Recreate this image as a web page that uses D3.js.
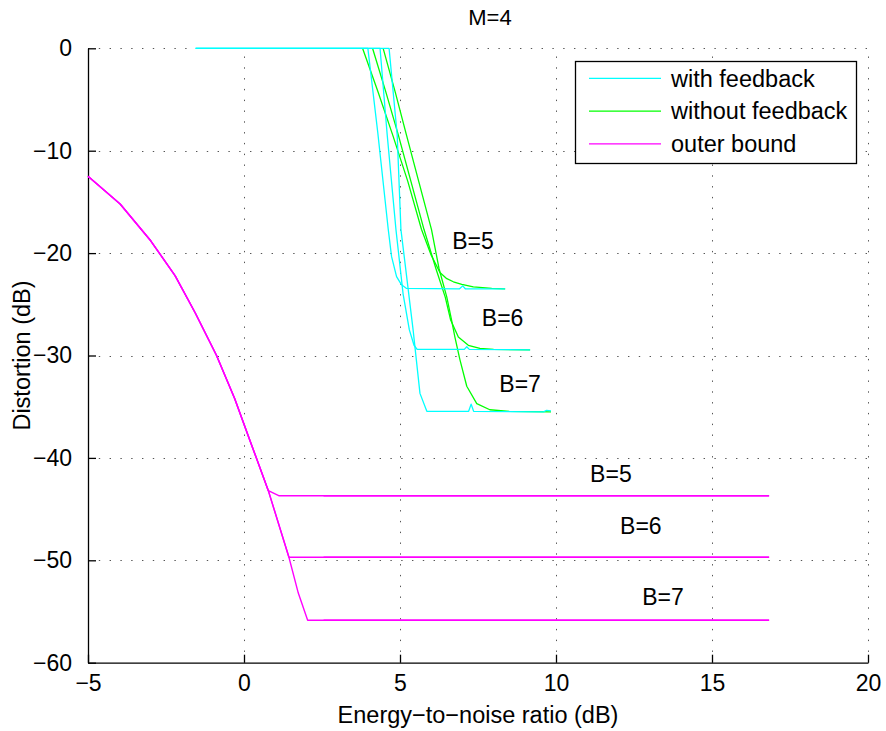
<!DOCTYPE html>
<html>
<head>
<meta charset="utf-8">
<script src="https://cdn.jsdelivr.net/npm/d3@7"></script>
<style>
  body { margin: 0; background: #fff; }
  svg text { font-family: "Liberation Sans", Arial, sans-serif; fill: #000; }
</style>
</head>
<body>
<svg id="chart" width="886" height="731"></svg>
<script>
// ---------- data ----------
const title = "M=4";
const xLabel = "Energy\u2212to\u2212noise ratio (dB)";
const yLabel = "Distortion (dB)";
const xTicks = [-5, 0, 5, 10, 15, 20];
const yTicks = [-60, -50, -40, -30, -20, -10, 0];
const legendLabels = ["with feedback", "without feedback", "outer bound"];

// with feedback (cyan)
const withFeedbackB5 = [[-1.55,0],[3.97,0],[4.29,-8.3],[4.62,-17.6],[4.73,-20.35],[4.89,-22.3],[5.05,-23.1],[5.21,-23.45],[6.9,-23.5],[7.01,-23.2],[7.1,-23.5],[8.37,-23.5]];
const withFeedbackB6 = [[-1.55,0],[4.36,0],[4.59,-8.47],[4.87,-17.7],[5.1,-24.0],[5.30,-27.5],[5.45,-29.0],[5.55,-29.4],[7.06,-29.4],[7.14,-29.15],[7.22,-29.4],[9.17,-29.45]];
const withFeedbackB7 = [[-1.55,0],[4.65,0],[4.91,-8.47],[5.03,-17.7],[5.42,-27.5],[5.64,-33.7],[5.86,-35.45],[7.2,-35.45],[7.28,-34.75],[7.36,-35.45],[9.6,-35.5],[9.7,-35.35],[9.84,-35.4]];

// without feedback (green)
const withoutFeedbackB5 = [[3.80,0],[4.3,-4.3],[4.77,-8.5],[5.25,-13],[5.69,-17.7],[6.0,-20.2],[6.28,-21.9],[6.5,-22.5],[6.71,-22.8],[6.98,-23.05],[7.35,-23.3],[7.94,-23.45],[8.37,-23.5]];
const withoutFeedbackB6 = [[4.12,0],[4.55,-4.3],[4.95,-8.5],[5.35,-13],[5.77,-17.7],[6.15,-21.5],[6.45,-24.3],[6.62,-26.5],[6.87,-28.2],[7.19,-29.0],[7.56,-29.3],[8.0,-29.4],[9.17,-29.45]];
const withoutFeedbackB7 = [[4.46,0],[4.85,-4.3],[5.21,-8.5],[5.6,-13],[6.01,-17.7],[6.25,-21.5],[6.5,-24.3],[6.65,-26.5],[6.76,-28.2],[6.92,-30.4],[7.14,-33.0],[7.46,-34.7],[7.88,-35.3],[8.5,-35.45],[9.84,-35.5]];

// outer bound (magenta)
const outerBoundCurve = [[-5,-12.5],[-3.97,-15.2],[-2.99,-18.8],[-2.21,-22.2],[-1.57,-25.8],[-0.88,-30],[-0.3,-34.2],[0.19,-38.3],[0.78,-43.2]];
const outerBoundB5Tail = [[1.13,-43.7],[16.83,-43.7]];
const outerBoundB6Tail = [[1.44,-49.7],[16.83,-49.7]];
const outerBoundB7Tail = [[1.44,-49.7],[1.74,-53.2],[2.04,-55.85],[16.83,-55.85]];
const outerBoundOverlayStart = 2.55;
const outerBoundLevels = [-43.7, -49.7, -55.85];
const outerBoundEnd = 16.83;

// B labels [x, y, text]
const curveLabels = [[7.34,-18.8,"B=5"],[8.29,-26.3,"B=6"],[8.85,-32.8,"B=7"],[11.76,-41.6,"B=5"],[12.72,-46.65,"B=6"],[13.43,-53.6,"B=7"]];

// ---------- drawing ----------
const svg = d3.select("#chart");
const L = 88, R = 868, T = 48.3, B = 662.7;
const x = d3.scaleLinear().domain([-5, 20]).range([L, R]);
const y = d3.scaleLinear().domain([-60, 0]).range([B, T]);
const FS = 23.5, FT = 23;

// grid
const grid = svg.append("g").attr("stroke", "#555").attr("stroke-width", 1).attr("stroke-dasharray", "1.4,9.4");
grid.selectAll(".gx").data(xTicks.slice(1)).join("line")
  .attr("x1", d => Math.round(x(d)) + 0.5).attr("x2", d => Math.round(x(d)) + 0.5)
  .attr("y1", B).attr("y2", T);
grid.selectAll(".gy").data(yTicks.slice(1)).join("line")
  .attr("y1", d => Math.round(y(d)) + 0.5).attr("y2", d => Math.round(y(d)) + 0.5)
  .attr("x1", L).attr("x2", R);

// axes
const fmt = d => d < 0 ? "\u2212" + Math.abs(d) : d;
const xAxis = d3.axisBottom(x).tickValues(xTicks).tickSizeInner(-8).tickSizeOuter(0).tickPadding(16).tickFormat(fmt);
const yAxis = d3.axisLeft(y).tickValues(yTicks).tickSizeInner(-8).tickSizeOuter(0).tickPadding(16).tickFormat(fmt);
const gx = svg.append("g").attr("transform", `translate(0,${B})`).call(xAxis);
const gy = svg.append("g").attr("transform", `translate(${L},0)`).call(yAxis);
[gx, gy].forEach(g => {
  g.select(".domain").attr("stroke", "#000").attr("stroke-width", 1.3);
  g.selectAll(".tick line").attr("stroke", "#000").attr("stroke-width", 1.3);
  g.selectAll(".tick text").attr("font-size", FT).attr("font-family", "Liberation Sans, Arial, sans-serif").attr("fill", "#000");
});
gx.selectAll(".tick text").attr("dy", "0.55em");

// lines
const line = d3.line().x(d => x(d[0])).y(d => y(d[1]));
const drawLine = (data, color, w) => svg.append("path").datum(data)
  .attr("d", line).attr("fill", "none").attr("stroke", color).attr("stroke-width", w).attr("stroke-linejoin", "round");

[withoutFeedbackB5, withoutFeedbackB6, withoutFeedbackB7].forEach(d => drawLine(d, "#00ff00", 1.3));
[withFeedbackB5, withFeedbackB6, withFeedbackB7].forEach(d => drawLine(d, "#00ffff", 1.3));
[outerBoundB5Tail, outerBoundB6Tail, outerBoundB7Tail].forEach(t => drawLine(outerBoundCurve.concat(t), "#ff00ff", 1.4));
outerBoundLevels.forEach(v => drawLine([[outerBoundOverlayStart, v], [outerBoundEnd, v]], "#ff00ff", 1.4));

// curve labels
svg.selectAll(".blab").data(curveLabels).join("text")
  .attr("x", d => x(d[0])).attr("y", d => y(d[1])).attr("dy", "0.35em")
  .attr("text-anchor", "middle").attr("font-size", FT).text(d => d[2]);

// title & axis labels
svg.append("text").attr("x", 490).attr("y", 25).attr("text-anchor", "middle").attr("font-size", 22).text(title);
svg.append("text").attr("x", 478).attr("y", 723).attr("text-anchor", "middle").attr("font-size", FS).text(xLabel);
svg.append("text").attr("transform", `translate(30,${(T + B) / 2}) rotate(-90)`).attr("text-anchor", "middle").attr("font-size", FS).text(yLabel);

// legend
const lg = svg.append("g");
lg.append("rect").attr("x", 575.5).attr("y", 61.5).attr("width", 281).attr("height", 102)
  .attr("fill", "#fff").attr("stroke", "#000").attr("stroke-width", 1.3);
const legendColors = ["#00ffff", "#00ff00", "#ff00ff"];
legendLabels.forEach((t, i) => {
  const yy = 78.3 + i * 32.8;
  lg.append("line").attr("x1", 589).attr("x2", 661).attr("y1", yy).attr("y2", yy)
    .attr("stroke", legendColors[i]).attr("stroke-width", 1.3);
  lg.append("text").attr("x", 671).attr("y", yy).attr("dy", "0.35em").attr("font-size", FS).text(t);
});
</script>
</body>
</html>
